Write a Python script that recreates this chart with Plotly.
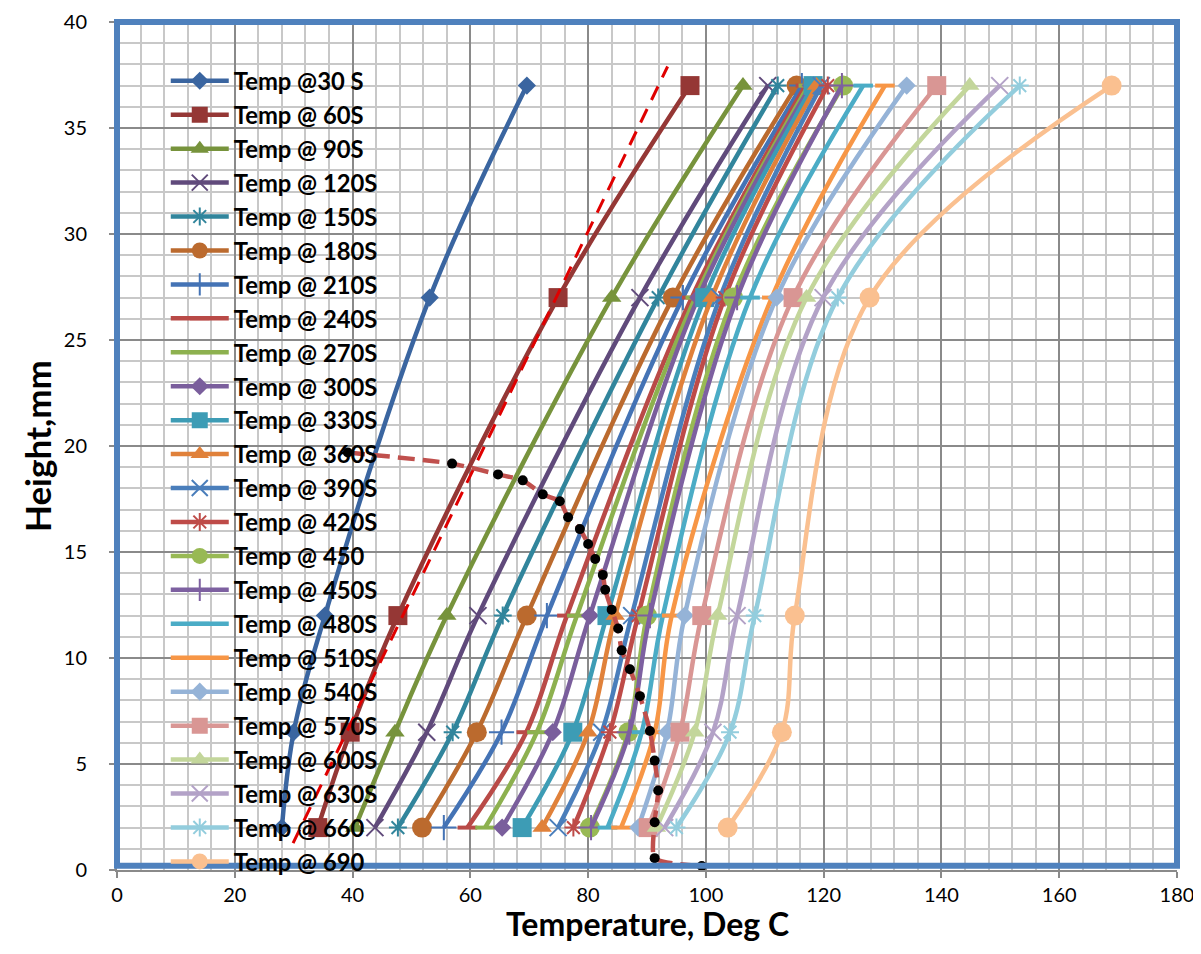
import plotly.graph_objects as go

heights = [2, 6.5, 12, 27, 37]

series_names = ["Temp @30 S", "Temp @ 60S", "Temp @ 90S", "Temp @ 120S", "Temp @ 150S",
                "Temp @ 180S", "Temp @ 210S", "Temp @ 240S", "Temp @ 270S", "Temp @ 300S",
                "Temp @ 330S", "Temp @ 360S", "Temp @ 390S", "Temp @ 420S", "Temp @ 450",
                "Temp @ 450S", "Temp @ 480S", "Temp @ 510S", "Temp @ 540S", "Temp @ 570S",
                "Temp @ 600S", "Temp @ 630S", "Temp @ 660", "Temp @ 690"]

t30 = [28.0, 30.0, 35.3, 53.1, 69.6]
t60 = [34.1, 39.6, 47.7, 74.9, 97.3]
t90 = [40.4, 47.2, 56.0, 84.0, 106.3]
t120 = [43.8, 52.6, 61.3, 88.8, 110.5]
t150 = [47.7, 57.0, 65.5, 91.9, 112.2]
t180 = [51.8, 61.1, 69.6, 94.4, 115.4]
t210 = [55.5, 65.3, 73.0, 96.1, 116.3]
t240 = [59.5, 69.5, 76.4, 97.6, 116.9]
t270 = [62.5, 71.3, 78.1, 98.2, 117.4]
t300 = [65.4, 74.0, 80.3, 98.7, 117.8]
t330 = [68.8, 77.4, 83.2, 99.8, 118.2]
t360 = [72.2, 80.0, 84.6, 101.0, 118.8]
t390 = [74.9, 82.3, 87.4, 102.4, 119.6]
t420 = [77.5, 83.7, 88.5, 103.2, 120.7]
t450 = [80.3, 86.8, 90.0, 104.6, 123.3]
t450s = [80.5, 87.0, 90.5, 105.3, 123.1]
t480 = [83.3, 89.1, 92.7, 107.5, 126.7]
t510 = [85.6, 91.3, 94.2, 111.2, 130.4]
t540 = [88.5, 93.4, 96.4, 112.0, 134.1]
t570 = [90.2, 95.6, 99.3, 114.8, 139.2]
t600 = [91.6, 98.1, 102.0, 117.1, 144.8]
t630 = [93.0, 101.2, 105.3, 119.9, 149.9]
t660 = [95.0, 104.1, 108.3, 122.4, 153.3]
t690 = [103.7, 112.9, 115.1, 127.8, 168.9]

all_series = [t30, t60, t90, t120, t150, t180, t210, t240, t270, t300, t330, t360,
              t390, t420, t450, t450s, t480, t510, t540, t570, t600, t630, t660, t690]

colors = ["#3A65A0", "#953735", "#77933C", "#604A7B", "#31859C", "#BB6A2E",
          "#4473B5", "#B94A47", "#8DB14F", "#7A5E9C", "#3D9CB5", "#E0813A",
          "#4A7EBB", "#BE4B48", "#98B954", "#7D60A0", "#4BACC6", "#F79646",
          "#95B3D7", "#D99694", "#C3D69B", "#B3A2C7", "#93CDDD", "#FAC090"]

symbols = ["diamond", "square", "triangle-up", "x-thin-open", "asterisk-open", "circle",
           "cross-thin-open", "line-ew-open", "line-ew-open", "diamond", "square", "triangle-up",
           "x-thin-open", "asterisk-open", "circle", "cross-thin-open", "line-ew-open", "line-ew-open",
           "diamond", "square", "triangle-up", "x-thin-open", "asterisk-open", "circle"]

symbol_sizes = {"diamond": 14, "square": 19, "triangle-up": 17, "x-thin-open": 17,
                "asterisk-open": 15, "circle": 20, "cross-thin-open": 18, "line-ew-open": 14}

# straight red dashed guide line
guide_x = [29.9, 93.5]
guide_y = [1.27, 37.9]

# dotted boundary curve
bound_x = [39.2, 56.9, 64.7, 68.9, 72.3, 75.2, 76.6, 78.6, 80.0, 81.2, 82.5, 82.9, 84.0,
           85.1, 85.7, 87.1, 88.8, 90.5, 91.3, 91.9, 91.3, 91.3, 99.3]
bound_y = [19.69, 19.17, 18.66, 18.38, 17.72, 17.39, 16.64, 16.08, 15.38, 14.67, 13.92, 13.22,
           12.28, 11.39, 10.36, 9.47, 8.2, 6.56, 5.16, 3.75, 2.25, 0.56, 0.19]

fig = go.Figure()
for i, (name, vals) in enumerate(zip(series_names, all_series)):
    sym = symbols[i]
    openline = sym.endswith("-open")
    lw = 0
    if openline:
        lw = 4 if sym.startswith("line-ew") else 2
    marker = dict(symbol=sym, size=symbol_sizes[sym], color=colors[i],
                  line=dict(width=lw, color=colors[i]))
    fig.add_trace(go.Scatter(
        x=vals, y=heights, name=name, mode="lines+markers",
        line=dict(color=colors[i], width=4.5, shape="spline", smoothing=1.0),
        marker=marker))

fig.add_trace(go.Scatter(x=guide_x, y=guide_y, mode="lines", showlegend=False,
                         line=dict(color="#E00000", width=3, dash="15px,10px")))
fig.add_trace(go.Scatter(x=bound_x, y=bound_y, mode="lines+markers", showlegend=False,
                         line=dict(color="#C0504D", width=4.5, dash="17px,8px", shape="spline",
                                   smoothing=0.6),
                         marker=dict(color="black", size=10)))

font_family = "Lato, Calibri, Arial, sans-serif"

# page body has an 8px margin: figure drawn at (8, 8)
fig.update_layout(
    width=1193, height=946,
    margin=dict(l=109, r=24, t=14, b=84),
    paper_bgcolor="white", plot_bgcolor="white",
    font=dict(family=font_family, color="black"),
    showlegend=True,
    legend=dict(x=0.046, y=0.9566, xanchor="left", yanchor="top", bgcolor="rgba(0,0,0,0)",
                font=dict(family=font_family, size=23.8, color="black", weight="bold"),
                itemwidth=58, borderwidth=0),
    xaxis=dict(range=[0, 180], dtick=20, tick0=0, showgrid=True, gridcolor="#8A8A8A", gridwidth=1.5,
               minor=dict(dtick=4, showgrid=True, gridcolor="#C8C8C8", gridwidth=1.5),
               zeroline=False, showline=True, linecolor="#8A8A8A", linewidth=2, automargin=False,
               ticks="outside", ticklen=6, tickcolor="#8A8A8A", tickwidth=1.5,
               ticklabeloverflow="allow",
               tickfont=dict(family=font_family, size=20, color="black")),
    yaxis=dict(range=[0, 40], dtick=5, tick0=0, showgrid=True, gridcolor="#8A8A8A", gridwidth=1.5,
               minor=dict(dtick=1, showgrid=True, gridcolor="#C8C8C8", gridwidth=1.5),
               zeroline=False, showline=True, linecolor="#8A8A8A", linewidth=2, automargin=False,
               ticks="outside", ticklen=6, tickcolor="#8A8A8A", tickwidth=1.5,
               ticklabelstandoff=18, ticklabeloverflow="allow",
               tickfont=dict(family=font_family, size=20, color="black")),
    annotations=[
        dict(text="<b>Temperature, Deg C</b>", xref="paper", yref="paper", x=0.5, y=0,
             xanchor="center", yanchor="middle", yshift=-53, showarrow=False,
             font=dict(family=font_family, size=32, color="black")),
        dict(text="<b>Height,mm</b>", xref="paper", yref="paper", x=0, y=0.5,
             xanchor="center", yanchor="middle", xshift=-80, textangle=-90, showarrow=False,
             font=dict(family=font_family, size=35, color="black")),
    ],
)

fig.add_shape(type="rect", xref="paper", yref="paper", x0=0, y0=0.005, x1=1, y1=1,
              line=dict(color="#4F81BD", width=6), fillcolor="rgba(0,0,0,0)", layer="above")

fig.write_html("out.html")
